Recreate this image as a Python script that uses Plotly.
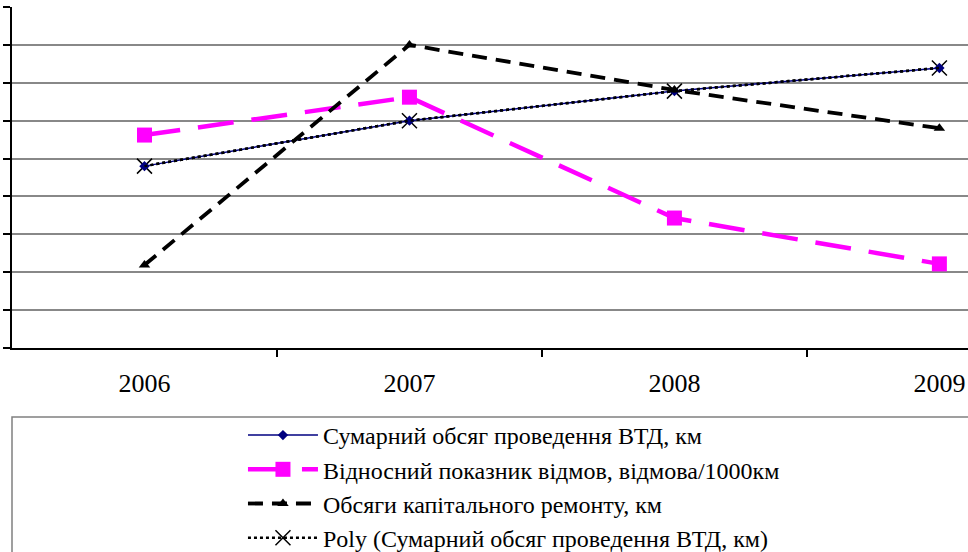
import plotly.graph_objects as go

years = ["2006", "2007", "2008", "2009"]
vtd_total = [4.80, 6.00, 6.78, 7.39]
failure_rate = [5.62, 6.62, 3.43, 2.22]
capital_repair = [2.19, 8.00, 6.81, 5.80]
poly_trend = [4.80, 6.00, 6.78, 7.39]

names = [
    "Сумарний обсяг проведення ВТД, км",
    "Відносний показник відмов, відмова/1000км",
    "Обсяги капітального ремонту, км",
    "Poly (Сумарний обсяг проведення ВТД, км)",
]

xs = list(range(len(years)))
font = "Liberation Serif, Times New Roman, serif"

fig = go.Figure()
# trend series with X markers (drawn first so the diamonds sit on top)
fig.add_trace(go.Scatter(x=xs, y=poly_trend, name=names[3], mode="lines+markers",
                         legendrank=1004,
                         line=dict(color="black", width=2.5, dash="dot"),
                         marker=dict(symbol="x-thin-open", size=15,
                                     line=dict(color="#7a7a7a", width=1.5))))
fig.add_trace(go.Scatter(x=xs, y=vtd_total, name=names[0], mode="lines+markers",
                         legendrank=1001,
                         line=dict(color="#000080", width=1.5),
                         marker=dict(symbol="diamond", size=8, color="#000080")))
# dotted trend line on top of the blue line
fig.add_trace(go.Scatter(x=xs, y=poly_trend, name=names[3], mode="lines",
                         showlegend=False, hoverinfo="skip",
                         line=dict(color="black", width=2.5, dash="dot")))
fig.add_trace(go.Scatter(x=xs, y=failure_rate, name=names[1], mode="lines+markers",
                         legendrank=1002,
                         line=dict(color="#FF00FF", width=4.5, dash="36px,18px"),
                         marker=dict(symbol="square", size=15, color="#FF00FF")))
fig.add_trace(go.Scatter(x=xs, y=capital_repair, name=names[2], mode="lines+markers",
                         legendrank=1003,
                         line=dict(color="black", width=3.8, dash="15px,9px"),
                         marker=dict(symbol="triangle-up", size=10, color="black")))

fig.update_layout(
    width=968, height=552,
    margin=dict(l=12, r=0, t=7, b=204, autoexpand=False),
    paper_bgcolor="white", plot_bgcolor="white",
    font=dict(family=font, color="black"),
    showlegend=True,
    legend=dict(xref="container", yref="container", x=0.251, y=0.2518,
                xanchor="left", yanchor="top", traceorder="normal",
                font=dict(family=font, size=24), itemwidth=70,
                tracegroupgap=0, bgcolor="rgba(0,0,0,0)"),
    xaxis=dict(range=[-0.5, 3.108], tickmode="array", tickvals=xs, ticktext=years,
               ticks="", showgrid=False, zeroline=False,
               showline=True, linecolor="black", linewidth=2,
               tickfont=dict(family=font, size=26), ticklabelstandoff=11,
               minor=dict(tickmode="array", tickvals=[0.5, 1.5, 2.5], ticks="outside",
                          ticklen=7, tickcolor="black", tickwidth=1.5, showgrid=False)),
    yaxis=dict(range=[0, 9], dtick=1, showticklabels=False, ticks="outside",
               ticklen=7, tickcolor="black", tickwidth=1.5,
               showgrid=True, gridcolor="#888888", gridwidth=1.5, zeroline=False,
               showline=True, linecolor="black", linewidth=2),
    shapes=[dict(type="rect", xref="paper", yref="paper", x0=0, x1=1.05,
                 y0=-0.7, y1=-0.2023, line=dict(color="#808080", width=1.5),
                 fillcolor="rgba(0,0,0,0)")],
)

fig.write_html("out.html", config={"displayModeBar": False},
               post_script="document.body.style.margin='0px';")
